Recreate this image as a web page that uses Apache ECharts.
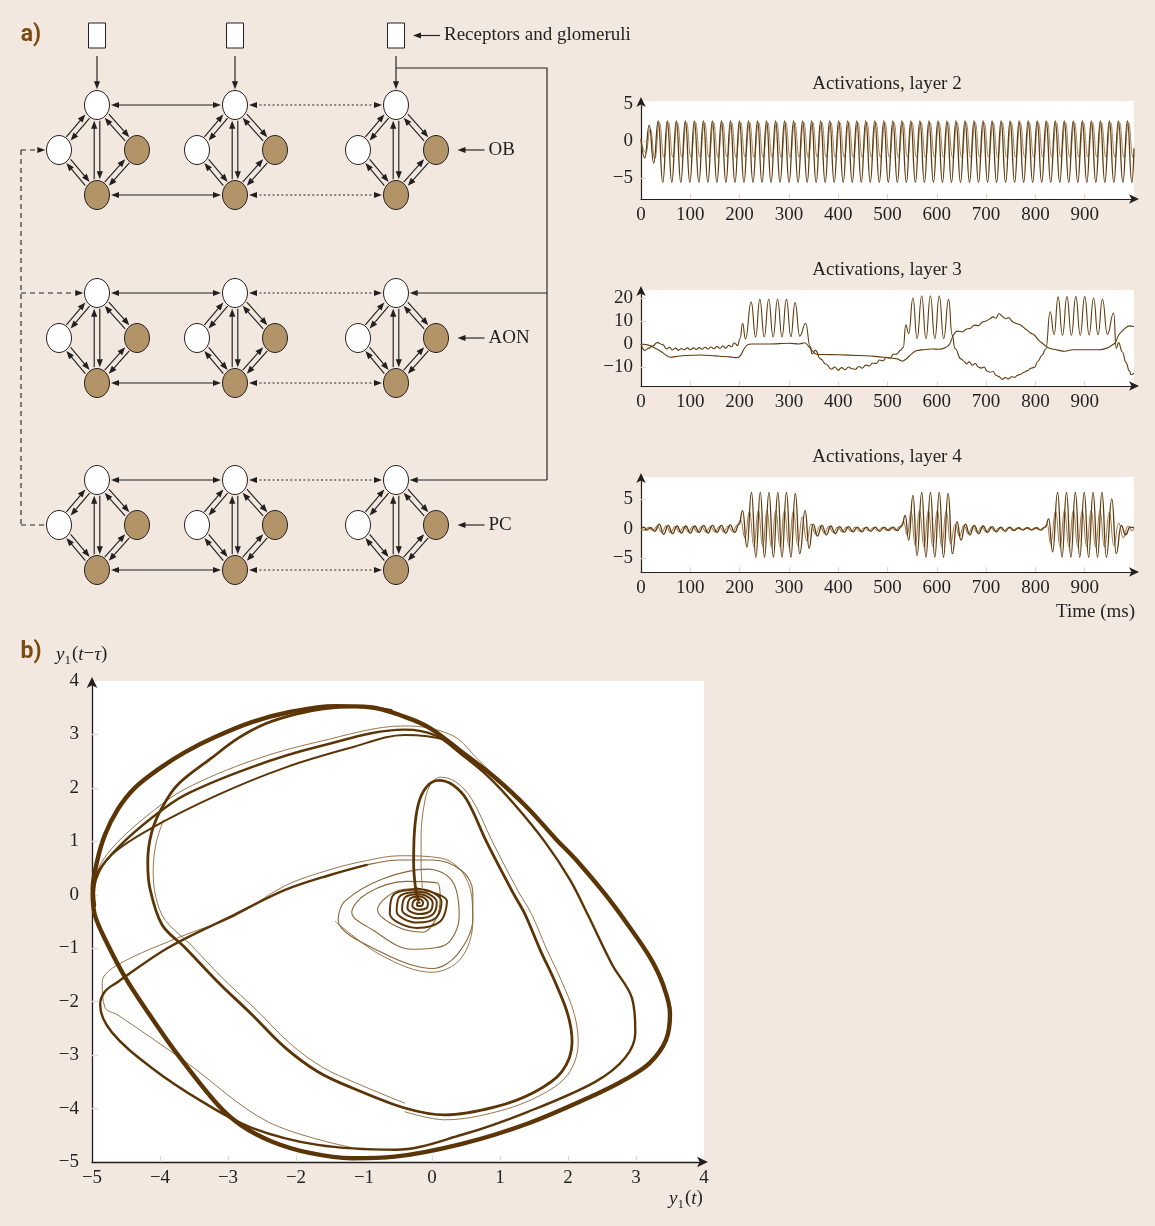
<!DOCTYPE html>
<html>
<head>
<meta charset="utf-8">
<title>Olfactory network activations</title>
<script src="https://cdn.jsdelivr.net/npm/echarts@6/dist/echarts.min.js"></script>
<style>
  html, body { margin: 0; padding: 0; background: #f2e8df; }
  #chart { width: 1155px; height: 1226px; }
</style>
</head>
<body>
<div id="chart"></div>
<script>
// ---------------------------------------------------------------
// Axis ticks
// ---------------------------------------------------------------
const TIME_TICKS = [0, 100, 200, 300, 400, 500, 600, 700, 800, 900];
const L2_TICKS = [-5, 0, 5];
const L3_TICKS = [-10, 0, 10, 20];
const L4_TICKS = [-5, 0, 5];
const PHASE_TICKS = [-5, -4, -3, -2, -1, 0, 1, 2, 3, 4];

// ---------------------------------------------------------------
// Layer 2: turning points of the two traces, one every half cycle (ms)
// ---------------------------------------------------------------
const L2_HALF_CYCLE = 9.15;
const L2_START_A = 7.55;
const L2_START_B = 9.8;
const layer2AEnds = [0.3, -1.0];   // values at t = 0 and t = 1000
const layer2BEnds = [0.0, -1.8];
const layer2A = [
  -2.3, 2.1, -3.0, 2.7,
  -5.6, 2.7, -5.6, 2.7, -5.6, 2.7, -5.6, 2.7,
  -5.6, 2.7, -5.6, 2.7, -5.6, 2.7, -5.6, 2.7,
  -5.6, 2.7, -5.6, 2.7, -5.6, 2.7, -5.6, 2.7,
  -5.6, 2.7, -5.6, 2.7, -5.6, 2.7, -5.6, 2.7,
  -5.6, 2.7, -5.6, 2.7, -5.6, 2.7, -5.6, 2.7,
  -5.6, 2.7, -5.6, 2.7, -5.6, 2.7, -5.6, 2.7,
  -5.6, 2.7, -5.6, 2.7, -5.6, 2.7, -5.6, 2.7,
  -5.6, 2.7, -5.6, 2.7, -5.6, 2.7, -5.6, 2.7,
  -5.6, 2.7, -5.6, 2.7, -5.6, 2.7, -5.6, 2.7,
  -5.6, 2.7, -5.6, 2.7, -5.6, 2.7, -5.6, 2.7,
  -5.6, 2.7, -5.6, 2.7, -5.6, 2.7, -5.6, 2.7,
  -5.6, 2.7, -5.6, 2.7, -5.6, 2.7, -5.6, 2.7,
  -5.6, 2.7, -5.6, 2.7, -5.6, 2.7, -5.6, 2.7,
  -5.6
];
const layer2B = [
  -1.6, 1.6, -2.4, 2.5,
  -2.2, 2.5, -2.2, 2.5, -2.2, 2.5, -2.2, 2.5,
  -2.2, 2.5, -2.2, 2.5, -2.2, 2.5, -2.2, 2.5,
  -2.2, 2.5, -2.2, 2.5, -2.2, 2.5, -2.2, 2.5,
  -2.2, 2.5, -2.2, 2.5, -2.2, 2.5, -2.2, 2.5,
  -2.2, 2.5, -2.2, 2.5, -2.2, 2.5, -2.2, 2.5,
  -2.2, 2.5, -2.2, 2.5, -2.2, 2.5, -2.2, 2.5,
  -2.2, 2.5, -2.2, 2.5, -2.2, 2.5, -2.2, 2.5,
  -2.2, 2.5, -2.2, 2.5, -2.2, 2.5, -2.2, 2.5,
  -2.2, 2.5, -2.2, 2.5, -2.2, 2.5, -2.2, 2.5,
  -2.2, 2.5, -2.2, 2.5, -2.2, 2.5, -2.2, 2.5,
  -2.2, 2.5, -2.2, 2.5, -2.2, 2.5, -2.2, 2.5,
  -2.2, 2.5, -2.2, 2.5, -2.2, 2.5, -2.2, 2.5,
  -2.2, 2.5, -2.2, 2.5, -2.2, 2.5, -2.2, 2.5,
  -2.2
];

// ---------------------------------------------------------------
// Layer 3: [time ms, activation]
// ---------------------------------------------------------------
const layer3A = [
  [0,0],[8,-2.8],[16,-1.8],[23,-0.9],[33,0.6],[44,-0.3],[52,-2.2],[58,-1.5],[64,-2.6],[70,-1.8],
  [76,-2.7],[82,-2.0],[88,-2.5],[94,-1.7],[100,-2.5],[106,-1.7],[112,-2.4],[118,-1.6],[124,-2.3],[130,-1.4],
  [136,-2.2],[142,-1.3],[148,-2.1],[154,-1.1],[160,-1.9],[166,-0.9],[172,-1.8],[178,-0.6],[184,-1.2],[189,0.5],
  [196,-0.6],[201,2.4],[206,9],[212,2.2],[223.5,18.2],[232.5,3.0],[241,19.4],[250,3.1],[259,19.5],[268,3.1],
  [277,19.5],[286,3.1],[295,19.4],[304,3.2],[312.5,18],[322,3.4],[334,9],[343,-1],[347,-4.3],[354,-2.8],
  [364,-6.5],[375,-8.7],[386,-11],[393,-10],[400,-11.4],[407,-10.3],[414,-11.2],[421,-10],[428,-10.8],[435,-11],
  [442,-9.8],[449,-10.5],[456,-9.2],[463,-9.6],[470,-8.3],[477,-8.5],[484,-7],[491,-7.3],[498,-5.8],[505,-6.1],
  [512,-4.5],[519,-4.4],[526,-2.8],[532,-1.5],[537,8.3],[543,4.5],[551.6,20],[560,2.4],[569.4,20.9],[578,2.3],
  [587,20.9],[596,2.3],[605,20.9],[614,2.4],[624,19.4],[631,4],[637,-2],[649,-6.5],[655,-7.5],[660,-8.7],
  [666,-7.8],[672,-9.2],[678,-8.5],[684,-10],[690,-10.5],[696,-10],[702,-11.8],[708,-12.3],[714,-12],[720,-13.6],
  [726,-14.2],[733,-15.4],[739,-14.6],[745,-15.2],[752,-14.3],[758,-14.5],[764,-13.6],[770,-13.2],[777,-12.3],[784,-11.6],
  [791,-10.6],[798,-10.2],[805,-7.5],[813,-5],[821,-2.2],[830,14],[838,4],[846,20.5],[855,3.8],[864,20.6],
  [873,3.8],[882,20.6],[891,3.8],[900,20.6],[909,3.9],[918,20],[927,4],[936,19.5],[946,4.2],[958.7,13.5],
  [964,-2],[968.5,0.6],[976.5,-3.5],[983.6,-8],[990.7,-11.7],[994,-13.4],[1000,-12.7]
];
const layer3B = [
  [0,0],[15,-0.5],[30,-2],[42,-3.5],[52,-5],[60,-5.8],[70,-5.5],[90,-5.0],[120,-4.8],[150,-5.2],
  [180,-5.6],[195,-6.0],[202,-5],[208,-2.5],[215,-0.5],[225,0],[260,0],[300,0.3],[320,0],[332,0.5],
  [340,-1],[348,-3],[356,-4.5],[370,-4.6],[400,-4.7],[440,-5],[470,-5.3],[500,-6],[520,-6.5],[530,-7.5],
  [538,-6.5],[548,-4.5],[558,-3],[572,-2.5],[590,-2.2],[605,-2.3],[618,-1.5],[626,0],[634,4],[642,5.6],
  [652,5.2],[660,6.5],[668,6.8],[676,8.2],[684,8],[692,9.5],[700,10],[708,11],[714,11.8],[720,11.2],
  [726,13.3],[732,12.2],[740,11],[746,11.5],[752,10],[760,9],[770,8.3],[780,6.5],[790,4.8],[798,3.9],
  [806,1.8],[816,0],[827,-1.8],[840,-2.4],[860,-3.2],[875,-2.5],[900,-2.5],[930,-2.5],[945,-1.8],[952,-1],
  [962,0.6],[969,3.9],[980,6.5],[990,7.9],[1000,7.6]
];

// ---------------------------------------------------------------
// Layer 4: [time ms, activation]
// ---------------------------------------------------------------
const layer4A = [
  [0,0],[6,0.3],[12,-0.2],[20,0.2],[28,-0.4],[37,0.8],[46,-0.9],[55,0.6],[64,-0.8],[73,0.5],
  [82,-0.7],[91,0.5],[100,-0.7],[109,0.5],[118,-0.6],[127,0.6],[136,-0.7],[145,0.6],[154,-0.6],[163,0.6],
  [172,-0.7],[181,0.7],[190,-0.6],[199,0.8],
  [206,3.1],[215,-3.1],[224,6.2],[233,-4.8],[242,6.2],[250.5,-4.8],[259.5,6.2],[268.5,-4.8],[277.5,6.2],[286,-4.8],
  [295,6.2],[304,-4.8],[313,6.0],[322,-4.2],[333,3.1],[341,-3.3],[349,0.8],[358,-1.2],[367,0.6],[376,-1.0],
  [385,0.5],[394,-0.8],[403,0.4],[412,-0.6],[421,0.4],[430,-0.5],[439,0.3],[448,-0.5],[457,0.3],[466,-0.4],
  [475,0.3],[484,-0.4],[493,0.3],[502,-0.3],[511,0.3],[520,-0.3],[529,0.5],
  [536,2.3],[543,-1.9],[551.6,5.7],[560,-4.5],[569.4,6.2],[578,-4.8],[587,6.2],[596,-4.8],[605,6.2],[613.5,-4.8],
  [623,6.0],[631.5,-4.2],[641,1.2],[649,-1.9],[658,0.8],[667,-1.0],[676,0.6],[685,-0.8],[694,0.5],[703,-0.6],
  [712,0.4],[721,-0.5],[730,0.3],[739,-0.4],[748,0.3],[757,-0.3],[766,0.2],[775,-0.2],[784,0.2],[793,-0.2],
  [802,0.2],[811,-0.2],[820,0.3],
  [827,1.7],[835,-3.9],[845,6.2],[854,-4.8],[863,6.2],[872,-4.8],[881,6.2],[890,-4.8],[899,6.2],[908,-4.8],
  [917,6.2],[926,-4.8],[935,6.2],[944,-4.8],[955,5.1],[964,-4.2],[974,0.6],[983,-1.0],[992,0.3],[1000,0.2]
];
const layer4B = [
  [0,0],[8,-0.2],[16,0.3],[24,-0.3],[33,0.5],[42,-0.6],[51,0.5],[60,-0.6],[69,0.4],[78,-0.5],
  [87,0.4],[96,-0.5],[105,0.4],[114,-0.5],[123,0.4],[132,-0.5],[141,0.4],[150,-0.5],[159,0.4],[168,-0.5],
  [177,0.5],[186,-0.5],[195,0.6],
  [202,1.5],[211,-1.5],[220,3.0],[229,-3.0],[238,3.1],[247,-3.0],[255.5,3.1],[264.5,-3.0],[273.5,3.1],[282,-3.0],
  [291,3.1],[300,-3.0],[309,3.0],[318,-2.8],[327,2.0],[336,-2.0],[345,0.8],[354,-0.9],[363,0.5],[372,-0.7],
  [381,0.4],[390,-0.6],[399,0.3],[408,-0.5],[417,0.3],[426,-0.4],[435,0.3],[444,-0.4],[453,0.2],[462,-0.3],
  [471,0.2],[480,-0.3],[489,0.2],[498,-0.2],[507,0.2],[516,-0.2],[525,0.4],
  [533,1.2],[540,-1.0],[548,3.0],[556,-2.8],[565,3.1],[574,-3.0],[583,3.1],[592,-3.0],[601,3.1],[610,-3.0],
  [619,3.0],[628,-2.5],[637,0.8],[646,-1.2],[655,0.6],[664,-0.8],[673,0.4],[682,-0.6],[691,0.3],[700,-0.5],
  [709,0.3],[718,-0.4],[727,0.2],[736,-0.3],[745,0.2],[754,-0.2],[763,0.15],[772,-0.15],[781,0.15],[790,-0.15],
  [799,0.15],[808,-0.15],[817,0.2],
  [824,0.8],[831,-2.5],[841,3.0],[850,-3.0],[859,3.1],[868,-3.0],[877,3.1],[886,-3.0],[895,3.1],[904,-3.0],
  [913,3.1],[922,-3.0],[931,3.1],[940,-3.0],[950,2.8],[959,-2.8],[969,1.0],[978,-1.5],[988,0.5],[996,-0.3],
  [1000,0.1]
];

// ---------------------------------------------------------------
// Phase portrait y1(t) vs y1(t - tau): strands of the trajectory
// ---------------------------------------------------------------
const strandOuter = [
  [-4.97,-0.2],[-4.99,0.1],[-4.93,0.6],[-4.81,1.12],[-4.62,1.6],[-4.37,2.0],[-4.0,2.37],[-3.63,2.67],[-3.19,2.95],[-2.65,3.23],
  [-2.09,3.42],[-1.43,3.53],[-0.91,3.51],[-0.40,3.33],[-0.03,3.12],[0.44,2.67],[0.93,2.19],[1.41,1.62],[1.81,1.06],[2.15,0.61],
  [2.54,0.02],[2.88,-0.56],[3.21,-1.18],[3.40,-1.69],[3.50,-2.22],[3.44,-2.72],[3.20,-3.15],[2.85,-3.45],[2.40,-3.74],[1.41,-4.28],
  [0.44,-4.66],[-0.55,-4.90],[-1.18,-4.93],[-1.80,-4.83],[-2.35,-4.62],[-2.80,-4.32],[-3.15,-3.93],[-3.74,-2.99],[-4.15,-2.25],[-4.51,-1.55],
  [-4.80,-0.85],[-4.96,-0.37],[-4.99,0.05]
];
const strandInner = [
  [-0.60,3.45],[-1.10,3.52],[-1.60,3.48],[-2.00,3.38],[-2.45,3.20],[-2.85,2.93],[-3.24,2.56],[-3.74,2.06],[-3.97,1.63],[-4.12,1.18],
  [-4.18,0.62],[-4.15,0.13],[-3.97,-0.56],[-3.63,-0.99],[-3.15,-1.63],[-2.65,-2.24],[-2.16,-2.86],[-1.68,-3.31],[-1.18,-3.61],[-0.40,-3.99],
  [0.19,-4.12],[0.93,-3.97],[1.51,-3.69],[1.91,-3.31],[2.06,-2.75],[2.00,-2.25],[1.81,-1.63],[1.59,-1.03],[1.37,-0.37],[1.19,0.04],
  [0.81,0.97],[0.51,1.78],[0.30,2.06],[0.10,2.14],[-0.08,2.02],[-0.20,1.70],[-0.26,1.15],[-0.27,0.60],[-0.24,0.10],[-0.20,-0.10]
];
const strandMiddle = [
  [-4.99,0.09],[-4.91,0.43],[-4.62,0.88],[-4.12,1.44],[-3.63,1.87],[-2.65,2.39],[-1.68,2.77],[-0.40,3.09],[0.05,2.98],[0.44,2.62],
  [0.82,2.22],[1.22,1.68],[1.66,0.99],[2.03,0.28],[2.29,-0.37],[2.65,-1.31],[2.94,-1.93],[2.99,-2.57],[2.84,-3.05],[2.40,-3.50],
  [1.41,-4.06],[0.44,-4.49],[-0.54,-4.77],[-1.68,-4.68],[-2.65,-4.36],[-3.38,-3.87],[-4.12,-3.24],[-4.71,-2.57],[-4.88,-2.06],[-4.81,-1.81],
  [-4.62,-1.63],[-3.88,-0.99],[-2.90,-0.37],[-2.16,0.09],[-1.50,0.37],[-0.96,0.56]
];
const strandDiagonal = [
  [-4.97,-0.1],[-4.94,0.28],[-4.71,0.75],[-4.12,1.25],[-3.15,1.87],[-2.16,2.38],[-1.2,2.75],[-0.40,2.99],[0.19,2.90],[0.44,2.66]
];
const spiralOuter = [
  [-1.50,0.37],[-0.96,0.56],[-0.47,0.65],[0.01,0.65],[0.44,0.45],[0.60,0.05],[0.60,-0.45],[0.37,-1.12],[0.01,-1.38],[-0.72,-1.09],
  [-1.38,-0.47],[-1.28,-0.12],[-0.72,0.30],[-0.05,0.48],[0.30,0.25],[0.40,-0.40],[0.18,-0.95],[-0.30,-1.02],[-0.87,-0.66],[-1.18,-0.33],
  [-0.95,0.03],[-0.38,0.25],[0.08,0.22],[0.12,-0.05],[0.07,-0.42],[-0.13,-0.70],[-0.51,-0.60],[-0.80,-0.28],[-0.57,0.04],[-0.22,0.12]
];
const spiralInner = [
  [-0.22,0.12],[0.22,-0.12],[0.12,-0.50],[-0.22,-0.62],[-0.62,-0.35],[-0.55,0.02],[-0.15,0.10],
  [0.14,-0.13],[0.06,-0.43],[-0.22,-0.52],[-0.52,-0.31],[-0.46,-0.01],[-0.16,0.05],
  [0.07,-0.14],[0.01,-0.37],[-0.21,-0.44],[-0.44,-0.28],[-0.39,-0.04],[-0.17,0.01],
  [0.01,-0.15],[-0.03,-0.31],[-0.20,-0.36],[-0.36,-0.25],[-0.32,-0.07],[-0.17,-0.03],
  [-0.06,-0.16],[-0.08,-0.25],[-0.19,-0.28],[-0.29,-0.21],[-0.26,-0.10],[-0.18,-0.08],
  [-0.13,-0.15],[-0.16,-0.21],[-0.22,-0.20],[-0.21,-0.14],[-0.18,-0.15]
];
const thinUpper = [
  [-4.97,0.19],[-4.88,0.56],[-4.62,0.99],[-4.12,1.55],[-3.63,1.98],[-2.65,2.51],[-1.68,2.86],[-0.40,3.16],[0.30,2.98],[0.70,2.50],
  [1.00,2.13]
];
const thinInner = [
  [-0.40,-4.06],[0.19,-4.21],[0.95,-4.06],[1.58,-3.76],[2.00,-3.36],[2.15,-2.76],[2.09,-2.22],[1.90,-1.60],[1.68,-1.00],[1.46,-0.35],
  [1.27,0.06],[0.89,0.99],[0.58,1.80],[0.34,2.12],[0.12,2.20],[-0.03,2.05],[-0.12,1.65],[-0.16,1.10],[-0.16,0.55],[-0.14,0.10]
];
const thinLower = [
  [-1.18,-4.73],[-2.41,-4.25],[-3.63,-3.12],[-4.62,-2.25],[-4.81,-2.11],[-4.85,-1.63],[-4.62,-1.31],[-3.63,-0.75],[-2.90,-0.40],[-2.16,0.17],
  [-1.50,0.47],[-0.96,0.64],[-0.47,0.73],[0.12,0.69],[0.44,0.43],[0.59,-0.09],[0.60,-0.50],[0.42,-1.20],[0.00,-1.45],[-0.75,-1.13],
  [-1.42,-0.50]
];
const thinDiagonal = [
  [-3.95,1.40],[-4.06,0.95],[-4.10,0.45],[-4.06,-0.05],[-3.92,-0.48],[-3.56,-0.92],[-3.08,-1.56],[-2.58,-2.16],[-2.09,-2.78],[-1.62,-3.22],
  [-1.12,-3.52],[-0.40,-3.90]
];

// ---------------------------------------------------------------
// Network schematic layout (schematic units, y grows downwards)
// ---------------------------------------------------------------
const COL_X = [97, 235, 396];
const LAYER_Y = [150, 338, 525];
const LAYER_NAMES = ['OB', 'AON', 'PC'];
const NODE_ROLES = [            // top, left, right, bottom node of one unit
  { dx: 0, dy: -45, dark: false },
  { dx: -38, dy: 0, dark: false },
  { dx: 40, dy: 0, dark: true },
  { dx: 0, dy: 45, dark: true }
];
const UNIT_LINKS = [[0, 1], [0, 2], [3, 1], [3, 2], [0, 3]];
const NODE_RX = 12.5, NODE_RY = 14.5;
const RECEPTOR_Y = 35.5, RECEPTOR_W = 17, RECEPTOR_H = 25;
const FEED_Y = 68, WIRE_RIGHT = 547, WIRE_LEFT = 21;

const INK = '#231f20';
const NODE_LIGHT = '#ffffff';
const NODE_DARK = '#b39468';
const TRACE = '#5f3a0c';
const TRACE_LIGHT = '#a3825a';
const PHASE = '#5c3507';
const PHASE_THIN = '#8a6639';
const SERIF = '"Liberation Serif", "DejaVu Serif", serif';

// ---------------------------------------------------------------
// Schematic drawing helpers (pixel space)
// ---------------------------------------------------------------
function sub(a, b) { return [a[0] - b[0], a[1] - b[1]]; }
function unit(v) { const l = Math.hypot(v[0], v[1]) || 1; return [v[0] / l, v[1] / l]; }
function along(p, u, d) { return [p[0] + u[0] * d, p[1] + u[1] * d]; }
function ellipseReach(u, rx, ry) { return 1 / Math.sqrt((u[0] / rx) ** 2 + (u[1] / ry) ** 2); }

function arrowHead(tip, u) {
  const n = [-u[1], u[0]], L = 8, W = 3.1;
  return {
    type: 'polygon',
    shape: { points: [tip,
      [tip[0] - u[0] * L + n[0] * W, tip[1] - u[1] * L + n[1] * W],
      [tip[0] - u[0] * L - n[0] * W, tip[1] - u[1] * L - n[1] * W]] },
    style: { fill: INK }
  };
}
function arrowLine(a, b, headA, headB, dash) {
  const u = unit(sub(b, a));
  const s = headA ? along(a, u, 6) : a;
  const e = headB ? along(b, u, -6) : b;
  const out = [{
    type: 'line',
    shape: { x1: s[0], y1: s[1], x2: e[0], y2: e[1] },
    style: { stroke: INK, lineWidth: 1.15, lineDash: dash || null }
  }];
  if (headA) out.push(arrowHead(a, [-u[0], -u[1]]));
  if (headB) out.push(arrowHead(b, u));
  return out;
}
function nodePoint(api, layer, col, role) {
  const r = NODE_ROLES[role];
  return api.coord([COL_X[col] + r.dx, LAYER_Y[layer] + r.dy]);
}

// one OB / AON / PC unit: four nodes with their reciprocal links
function renderUnit(params, api) {
  const layer = api.value(0), col = api.value(1);
  const size = api.size([NODE_RX, NODE_RY]);
  const rx = size[0], ry = size[1];
  const pts = NODE_ROLES.map((r, k) => nodePoint(api, layer, col, k));
  const children = [];
  UNIT_LINKS.forEach(([i, j]) => {
    const u = unit(sub(pts[j], pts[i]));
    const n = [-u[1], u[0]];
    const reach = ellipseReach(u, rx, ry) + 1.2;
    [-1, 1].forEach(side => {
      const off = side * 2.8;
      const a = [pts[i][0] + u[0] * reach + n[0] * off, pts[i][1] + u[1] * reach + n[1] * off];
      const b = [pts[j][0] - u[0] * reach + n[0] * off, pts[j][1] - u[1] * reach + n[1] * off];
      children.push(...arrowLine(a, b, side > 0, side < 0));
    });
  });
  pts.forEach((p, k) => children.push({
    type: 'ellipse',
    shape: { cx: p[0], cy: p[1], rx: rx, ry: ry },
    style: { fill: NODE_ROLES[k].dark ? NODE_DARK : NODE_LIGHT, stroke: INK, lineWidth: 1 }
  }));
  return { type: 'group', children };
}

// lateral links between neighbouring columns
function renderLateral(params, api) {
  const layer = api.value(0), colA = api.value(1), colB = api.value(2), role = api.value(3), dotted = api.value(4);
  const rx = api.size([NODE_RX, NODE_RY])[0];
  const a = nodePoint(api, layer, colA, role), b = nodePoint(api, layer, colB, role);
  const u = unit(sub(b, a));
  return { type: 'group', children: arrowLine(along(a, u, rx + 1.5), along(b, u, -(rx + 1.5)), true, true, dotted ? [2, 2.4] : null) };
}

// receptor boxes with their input arrows
function renderReceptor(params, api) {
  const col = api.value(0);
  const c = api.coord([COL_X[col], RECEPTOR_Y]);
  const s = api.size([RECEPTOR_W, RECEPTOR_H]);
  const ry = api.size([NODE_RX, NODE_RY])[1];
  const top = nodePoint(api, 0, col, 0);
  const stemStart = [c[0], c[1] + s[1] / 2 + 8];
  return {
    type: 'group',
    children: [
      { type: 'rect', shape: { x: c[0] - s[0] / 2, y: c[1] - s[1] / 2, width: s[0], height: s[1] },
        style: { fill: '#ffffff', stroke: INK, lineWidth: 1 } },
      ...arrowLine(stemStart, [top[0], top[1] - ry - 1.2], false, true)
    ]
  };
}

// feed-forward wire from the last glomerulus and dashed feedback wire
function renderWires(params, api) {
  const rx = api.size([NODE_RX, NODE_RY])[0];
  const children = [];
  const stem = api.coord([COL_X[2], FEED_Y]);
  const right = api.coord([WIRE_RIGHT, FEED_Y]);
  const bottom = api.coord([WIRE_RIGHT, LAYER_Y[2] + NODE_ROLES[0].dy]);
  children.push({ type: 'polyline', shape: { points: [stem, right, bottom] }, style: { stroke: INK, lineWidth: 1.15, fill: null } });
  [1, 2].forEach(layer => {
    const node = nodePoint(api, layer, 2, 0);
    const from = api.coord([WIRE_RIGHT, LAYER_Y[layer] + NODE_ROLES[0].dy]);
    children.push(...arrowLine(from, [node[0] + rx + 1.2, node[1]], false, true));
  });
  const dash = [5, 4];
  const obLeft = nodePoint(api, 0, 0, 1);
  const pcLeft = nodePoint(api, 2, 0, 1);
  const aonTop = nodePoint(api, 1, 0, 0);
  const xl = api.coord([WIRE_LEFT, 0])[0];
  children.push({ type: 'line', shape: { x1: xl, y1: obLeft[1], x2: xl, y2: pcLeft[1] }, style: { stroke: INK, lineWidth: 1.1, lineDash: dash } });
  children.push(...arrowLine([xl, obLeft[1]], [obLeft[0] - rx - 1.2, obLeft[1]], false, true, dash));
  children.push(...arrowLine([xl, aonTop[1]], [aonTop[0] - rx - 1.2, aonTop[1]], false, true, dash));
  children.push({ type: 'line', shape: { x1: xl, y1: pcLeft[1], x2: pcLeft[0] - rx - 1, y2: pcLeft[1] }, style: { stroke: INK, lineWidth: 1.1, lineDash: dash } });
  return { type: 'group', children };
}

// layer names and the receptor caption, each with a pointer arrow
const LABELS = ['Receptors and glomeruli'].concat(LAYER_NAMES);
function renderCaption(params, api) {
  const x0 = api.value(0), y0 = api.value(1), label = LABELS[params.dataIndex];
  const from = api.coord([x0 + 27, y0]), to = api.coord([x0, y0]);
  return {
    type: 'group',
    children: [
      ...arrowLine(from, to, false, true),
      { type: 'text', x: from[0] + 4, y: from[1],
        style: { text: label, font: '19px ' + SERIF, fill: INK, align: 'left', verticalAlign: 'middle', textAlign: 'left', textVerticalAlign: 'middle' } }
    ]
  };
}
const captionData = [[COL_X[2] + 17, RECEPTOR_Y]].concat(
  LAYER_Y.map(y => [COL_X[2] + NODE_ROLES[2].dx + NODE_RX + 9, y]));

const unitData = [];
LAYER_Y.forEach((y, l) => COL_X.forEach((x, c) => unitData.push([l, c])));
const lateralData = [];
LAYER_Y.forEach((y, l) => [0, 3].forEach(role => {
  lateralData.push([l, 0, 1, role, 0]);
  lateralData.push([l, 1, 2, role, 1]);
}));

// ---------------------------------------------------------------
// Time series assembly
// ---------------------------------------------------------------
function turningPoints(start, half, values, ends) {
  return [[0, ends[0]]].concat(values.map((v, i) => [start + i * half, v]), [[1000, ends[1]]]);
}
const minus = v => String(v).replace('-', '\u2212');

function timeAxes(gridIndex, min, max, yTicks) {
  const tick = { show: true, inside: true, length: 5, lineStyle: { color: '#e6d8c6', width: 1.2 } };
  return {
    x: {
      type: 'value', gridIndex, min: 0, max: 1000,
      axisLine: { onZero: false, symbol: ['none', 'arrow'], symbolSize: [7, 10], symbolOffset: [0, 5], lineStyle: { color: INK, width: 1.2 } },
      axisTick: Object.assign({ customValues: TIME_TICKS.slice(1) }, tick),
      axisLabel: { customValues: TIME_TICKS, margin: 7, fontFamily: SERIF, fontSize: 19, color: INK, formatter: minus },
      splitLine: { show: false }
    },
    y: {
      type: 'value', gridIndex, min, max,
      axisLine: { onZero: false, symbol: ['none', 'arrow'], symbolSize: [7, 10], symbolOffset: [0, 4], lineStyle: { color: INK, width: 1.2 } },
      axisTick: Object.assign({ customValues: yTicks }, tick),
      axisLabel: { customValues: yTicks, margin: 8, fontFamily: SERIF, fontSize: 19, color: INK, formatter: minus },
      splitLine: { show: false }
    }
  };
}
function trace(axisIndex, data, color, width, monotone) {
  return {
    type: 'line', xAxisIndex: axisIndex, yAxisIndex: axisIndex, data,
    symbol: 'none', showSymbol: false, silent: true,
    smooth: monotone ? 0.5 : 0.3, smoothMonotone: monotone ? 'x' : undefined,
    lineStyle: { color, width }, z: 3
  };
}
function strand(data, width, color) {
  return {
    type: 'line', xAxisIndex: 4, yAxisIndex: 4, data, symbol: 'none', showSymbol: false, silent: true,
    smooth: 0.35, clip: false, lineStyle: { color: color || PHASE, width, cap: 'round', join: 'round' }, z: 3
  };
}

const ax2 = timeAxes(1, -7.84, 5.4, L2_TICKS);
const ax3 = timeAxes(2, -18.3, 23.5, L3_TICKS);
const ax4 = timeAxes(3, -7.3, 8.8, L4_TICKS);

const phaseTick = { show: true, inside: true, length: 6, lineStyle: { color: '#e6d8c6', width: 1.3 } };
const phaseX = {
  type: 'value', gridIndex: 4, min: -5, max: 4, interval: 1,
  axisLine: { onZero: false, symbol: ['none', 'arrow'], symbolSize: [8, 11], symbolOffset: [0, 4], lineStyle: { color: INK, width: 1.3 } },
  axisTick: Object.assign({ customValues: PHASE_TICKS.slice(1, -1) }, phaseTick),
  axisLabel: { customValues: PHASE_TICKS, margin: 7, fontFamily: SERIF, fontSize: 19, color: INK, formatter: minus },
  splitLine: { show: false }
};
const phaseY = {
  type: 'value', gridIndex: 4, min: -5, max: 4, interval: 1,
  axisLine: { onZero: false, symbol: ['none', 'arrow'], symbolSize: [8, 11], symbolOffset: [0, 4], lineStyle: { color: INK, width: 1.3 } },
  axisTick: Object.assign({ customValues: PHASE_TICKS.slice(1, -1) }, phaseTick),
  axisLabel: { customValues: PHASE_TICKS, margin: 13, fontFamily: SERIF, fontSize: 19, color: INK, formatter: minus },
  splitLine: { show: false }
};

const plotGrid = (left, top, width, height) => ({
  left, top, width, height, show: true, backgroundColor: '#ffffff', borderWidth: 0, containLabel: false, outerBoundsMode: 'none'
});

function text(x, y, content, opts) {
  return {
    type: 'text', x, y, silent: true,
    style: Object.assign({ text: content, font: '19px ' + SERIF, fill: INK, align: 'center', verticalAlign: 'middle', textAlign: 'center', textVerticalAlign: 'middle' }, opts || {})
  };
}
const mathRich = {
  i: { fontFamily: SERIF, fontStyle: 'italic', fontSize: 19, lineHeight: 22, verticalAlign: 'top', fill: INK, color: INK },
  n: { fontFamily: SERIF, fontSize: 19, lineHeight: 22, verticalAlign: 'top', fill: INK, color: INK },
  s: { fontFamily: SERIF, fontSize: 13, lineHeight: 14, padding: [9, 1, 0, 0], verticalAlign: 'top', fill: INK, color: INK }
};
const panelFont = 'bold 23px "Liberation Sans Narrow", "Roboto", "Liberation Sans", sans-serif';

const chart = echarts.init(document.getElementById('chart'), null, { renderer: 'canvas' });
chart.setOption({
  backgroundColor: '#f2e8df',
  animation: false,
  grid: [
    { left: 0, top: 0, width: 560, height: 600, show: false, outerBoundsMode: 'none' },
    plotGrid(641, 101, 493, 98),
    plotGrid(641, 290, 493, 96),
    plotGrid(641, 477, 493, 95),
    plotGrid(92, 681, 612, 481)
  ],
  xAxis: [
    { type: 'value', gridIndex: 0, min: 0, max: 560, show: false },
    ax2.x, ax3.x, ax4.x, phaseX
  ],
  yAxis: [
    { type: 'value', gridIndex: 0, min: 0, max: 600, inverse: true, show: false },
    ax2.y, ax3.y, ax4.y, phaseY
  ],
  graphic: { elements: [
    text(31, 35, 'a)', { font: panelFont, fill: '#7b4a13' }),
    text(31, 652, 'b)', { font: panelFont, fill: '#7b4a13' }),
    text(887, 84, 'Activations, layer 2'),
    text(887, 270, 'Activations, layer 3'),
    text(887, 457, 'Activations, layer 4'),
    text(1135, 612, 'Time (ms)', { align: 'right', textAlign: 'right' }),
    { type: 'text', x: 56, y: 645, silent: true,
      style: { text: '{i|y}{s|1}{n|(}{i|t}{n|\u2212}{i|\u03c4}{n|)}', rich: mathRich, align: 'left', verticalAlign: 'top', textAlign: 'left', textVerticalAlign: 'top' } },
    { type: 'text', x: 669, y: 1189, silent: true,
      style: { text: '{i|y}{s|1}{n|(}{i|t}{n|)}', rich: mathRich, align: 'left', verticalAlign: 'top', textAlign: 'left', textVerticalAlign: 'top' } }
  ] },
  series: [
    // schematic
    { type: 'custom', xAxisIndex: 0, yAxisIndex: 0, data: lateralData, renderItem: renderLateral, silent: true, clip: false },
    { type: 'custom', xAxisIndex: 0, yAxisIndex: 0, data: [[0]], renderItem: renderWires, silent: true, clip: false },
    { type: 'custom', xAxisIndex: 0, yAxisIndex: 0, data: COL_X.map((x, c) => [c]), renderItem: renderReceptor, silent: true, clip: false },
    { type: 'custom', xAxisIndex: 0, yAxisIndex: 0, data: unitData, renderItem: renderUnit, silent: true, clip: false },
    { type: 'custom', xAxisIndex: 0, yAxisIndex: 0, data: captionData, renderItem: renderCaption, silent: true, clip: false },
    // layer 2
    trace(1, turningPoints(L2_START_B, L2_HALF_CYCLE, layer2B, layer2BEnds), TRACE_LIGHT, 1.0, true),
    trace(1, turningPoints(L2_START_A, L2_HALF_CYCLE, layer2A, layer2AEnds), TRACE, 1.3, true),
    // layer 3
    trace(2, layer3B, TRACE, 1.1, false),
    trace(2, layer3A, TRACE, 1.1, true),
    // layer 4
    trace(3, layer4B, TRACE_LIGHT, 1.1, true),
    trace(3, layer4A, TRACE, 1.3, true),
    // phase portrait
    strand(thinUpper, 0.9, PHASE_THIN),
    strand(thinInner, 0.9, PHASE_THIN),
    strand(thinLower, 0.9, PHASE_THIN),
    strand(thinDiagonal, 0.9, PHASE_THIN),
    strand(spiralOuter, 1.1, PHASE_THIN),
    strand(strandDiagonal, 2.0),
    strand(strandMiddle, 2.4),
    strand(strandInner, 2.8),
    strand(strandOuter, 4.4),
    strand(spiralInner, 2.0)
  ]
});
</script>
</body>
</html>
